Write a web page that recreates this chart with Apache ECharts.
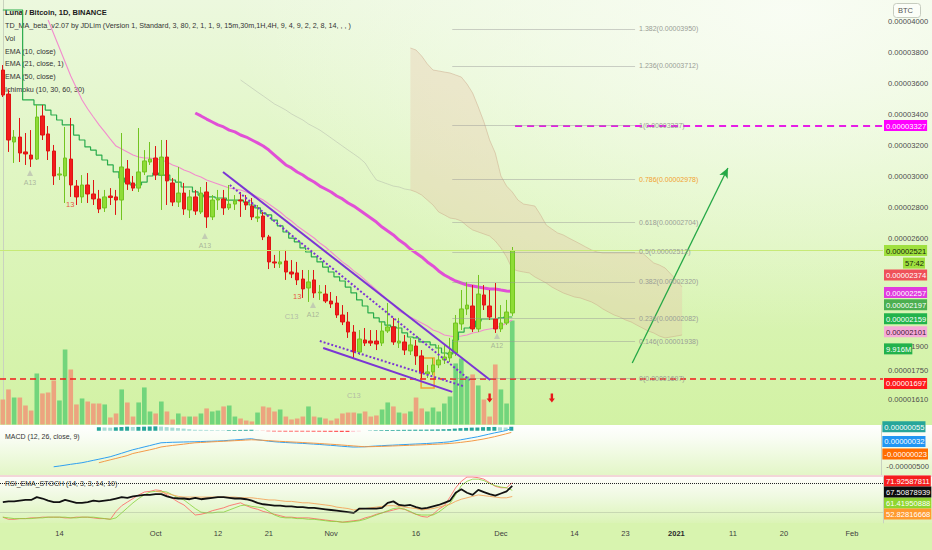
<!DOCTYPE html>
<html>
<head>
<meta charset="utf-8">
<title>Luna / Bitcoin, 1D, BINANCE</title>
<script src="https://cdn.jsdelivr.net/npm/echarts@6/dist/echarts.min.js"></script>
<style>
  html, body { margin:0; padding:0; width:932px; height:550px; overflow:hidden; background:#d9f4b2; }
  .bg { position:absolute; left:0; width:932px; }
  #bgMain { top:0; height:425px; background:
     radial-gradient(ellipse 560px 320px at 790px 10px, rgba(250,253,246,0.9) 0%, rgba(250,253,246,0) 100%),
     linear-gradient(to bottom, #ecf8de 0%, #e0f6c3 40%, #d2f2a4 100%); }
  #bgMacd { top:425px; height:50px; background: linear-gradient(to bottom, #ffffff 0%, #f9fdf4 25%, #e3f6c7 100%); }
  #bgSep { top:475px; height:2px; background:#f3d6d8; }
  #bgRsi { top:477px; height:46px; background: linear-gradient(to bottom, #fdfdf9 0%, #eef9df 45%, #dbf4b6 100%); }
  #bgX { top:523px; height:27px; background:#d8f4af; }
  #chart { position:absolute; left:0; top:0; width:932px; height:550px; }
</style>
</head>
<body>
<div class="bg" id="bgMain"></div>
<div class="bg" id="bgMacd"></div>
<div class="bg" id="bgSep"></div>
<div class="bg" id="bgRsi"></div>
<div class="bg" id="bgX"></div>
<div id="chart"></div>
<script>
// ---------- DATA (prices in satoshi = 1e-8 BTC) ----------
const startDate = '2020-09-04';
const dayCount = 156;
const tickDates  = ['2020-09-14','2020-10-01','2020-10-12','2020-10-21','2020-11-01','2020-11-16','2020-12-01','2020-12-14','2020-12-23','2021-01-01','2021-01-11','2021-01-20','2021-02-01'];
const tickLabels = ['14','Oct','12','21','Nov','16','Dec','14','23','2021','11','20','Feb'];
const priceAxisLabels = [4000,3800,3600,3400,3200,3000,2800,2600,1900,1750,1610];

const openP = [3685,3530,3221,3253,3157,3137,3111,3389,3273,3163,
  3008,3002,3111,2937,2867,2944,2886,2854,2796,2873,
  2867,2847,3047,2957,2924,3028,3092,3118,3008,3124,
  2957,2834,2892,2783,2867,2770,2899,2738,2847,2854,
  2796,2821,2847,2834,2808,2731,2744,2609,2448,2435,
  2454,2383,2377,2338,2280,2332,2248,2241,2196,2183,
  2106,2061,1996,1867,1945,1938,1938,1925,2003,2029,
  1925,1932,1874,1906,1842,1726,1739,1784,1816,1829,
  1861,2048,2145,2164,2016,2235,2164,2080,2016,2054,
  2119];
const closeP = [3524,3234,3253,3150,3144,3111,3382,3266,3163,3002,
  3015,3118,2944,2867,2944,2886,2854,2789,2867,2863,
  2847,3060,2950,2924,3028,3099,3111,3008,3124,2970,
  2834,2892,2789,2867,2776,2892,2738,2847,2854,2796,
  2821,2841,2841,2815,2738,2738,2609,2448,2441,2448,
  2383,2370,2332,2274,2319,2248,2254,2196,2177,2106,
  2061,1996,1867,1951,1925,1925,1919,2003,2029,1932,
  1938,1880,1913,1842,1732,1739,1784,1816,1835,1867,
  2054,2145,2170,2016,2241,2170,2093,2016,2054,2125,
  2521];
const lowP = [3511,3157,3086,3092,3073,3060,3105,3234,3105,2944,
  2976,2828,2867,2815,2828,2828,2815,2763,2770,2815,
  2751,2718,2912,2905,2899,3008,3073,2976,2783,2815,
  2808,2802,2751,2731,2751,2757,2667,2718,2783,2751,
  2783,2783,2738,2783,2718,2705,2589,2402,2409,2409,
  2332,2344,2299,2216,2190,2216,2203,2183,2151,2087,
  2041,1958,1829,1848,1906,1906,1880,1906,1990,1913,
  1893,1848,1848,1784,1697,1700,1719,1764,1790,1803,
  1842,2009,2106,1996,1996,2138,2074,1990,1996,2041,
  2100];
const highP = [3717,3560,3298,3376,3279,3298,3460,3460,3324,3202,
  3060,3318,3376,2976,3008,3021,2976,2912,2912,2924,
  2912,3279,3105,3002,3311,3169,3221,3195,3234,3234,
  2989,3060,2957,2912,2912,2931,2963,2879,2912,2912,
  2944,2879,2899,2879,2860,2815,2770,2622,2493,2525,
  2525,2460,2448,2396,2396,2396,2299,2299,2254,2228,
  2170,2125,2041,2009,2022,2009,2009,2061,2183,2087,
  2087,1977,1958,1945,1880,1784,1829,1913,1913,1958,
  2106,2267,2319,2299,2364,2299,2267,2312,2170,2203,
  2544];
// volume, millions
const volume = [2.38,3.34,2.57,2.57,1.81,1.33,4.86,2.96,3.05,4.19,
  2.29,7.15,5.24,1.91,2.48,2.19,2.0,2.0,1.91,0.67,
  1.05,3.34,2.10,0.76,2.10,3.53,1.24,1.05,2.19,1.24,
  0.48,1.05,0.76,0.76,0.76,1.05,1.53,1.24,1.33,1.72,
  1.81,0.76,0.57,0.38,0.29,1.14,1.72,1.62,1.24,1.43,
  0.76,0.48,0.57,0.76,1.72,0.76,0.67,0.57,0.38,0.57,
  1.05,1.14,1.14,1.05,1.24,0.76,0.86,1.43,2.10,1.72,
  1.14,1.05,1.24,2.57,1.53,1.24,1.62,1.24,2.0,2.67,
  5.82,6.29,4.58,4.77,3.72,2.38,0.76,5.72,3.34,2.0,9.916];
// Ichimoku conversion line (green, stepped)
const ichiConv = [4072,4072,4072,4072,3492,3492,3460,3460,3427,3395,
  3363,3331,3331,3266,3234,3189,3169,3137,3105,3073,
  3028,2989,2963,2944,2944,2963,3002,3021,3008,3008,
  2976,2963,2931,2931,2899,2879,2867,2867,2860,2860,
  2847,2847,2847,2834,2815,2796,2763,2751,2718,2680,
  2641,2602,2577,2538,2512,2480,2448,2415,2383,2351,
  2325,2286,2248,2203,2164,2119,2087,2061,2041,2029,
  2022,1990,1964,1958,1932,1932,1913,1893,1861,1855,
  1945,1996,2022,2029,2067,2080,2080,2080,2087,2093,2093];
// EMA 21 (thin pink), starts day 8
const ema21Start = 8;
const ema21 = [4007,3917,3827,3737,3647,3569,3492,3434,3382,3331,
  3286,3240,3195,3176,3157,3137,3124,3118,3118,3111,
  3105,3092,3073,3060,3041,3028,3008,2995,2976,2963,
  2950,2937,2924,2918,2912,2899,2886,2867,2847,2821,
  2796,2770,2738,2712,2680,2654,2628,2602,2570,2544,
  2512,2480,2448,2422,2390,2364,2332,2299,2267,2235,
  2203,2170,2132,2112,2093,2074,2054,2035,2009,1996,
  1977,1970,1964,1970,1977,1990,1996,2009,2016,2022,
  2035,2054,2074];
// EMA 50 (thick magenta), starts day 34
const ema50Start = 34;
const ema50 = [3408,3389,3369,3350,3331,3318,3298,3286,3266,3253,
  3234,3215,3195,3169,3137,3105,3073,3054,3028,3008,
  2983,2963,2937,2918,2899,2873,2854,2828,2808,2783,
  2757,2731,2705,2673,2647,2622,2589,2564,2531,2506,
  2480,2448,2422,2390,2364,2344,2325,2312,2299,2293,
  2286,2280,2274,2274,2267,2261,2257];
// Ichimoku cloud (days 72..120) and faint leading span (days 42..72)
const cloudStart = 72;
const cloudUpper = [3827,3814,3775,3724,3685,3679,3672,3666,3653,3640,
  3595,3537,3447,3350,3234,3150,3002,2937,2899,2847,
  2821,2815,2808,2751,2686,2660,2635,2622,2602,2583,
  2564,2544,2525,2512,2506,2506,2506,2506,2506,2506,
  2506,2506,2473,2441,2428,2409,2370,2332,2286];
const cloudLower = [2912,2899,2879,2847,2815,2770,2751,2731,2725,2712,
  2680,2654,2641,2628,2615,2583,2538,2480,2402,2390,
  2383,2377,2351,2332,2312,2286,2267,2248,2235,2222,
  2216,2203,2190,2170,2145,2125,2106,2093,2074,2061,
  2041,2022,2003,1990,1970,1958,1964,1970,1977];
const spanPreStart = 42;
const spanPre = [3621,3595,3569,3543,3518,3492,3466,3447,3427,3402,
  3382,3363,3337,3318,3298,3273,3247,3221,3195,3169,
  3144,3118,3086,3028,2976,2963,2950,2937,2931,2918,2912];
// MACD (satoshi)
const macdStart = 9;
const macdLine = [-500,-490,-478,-466,-455,-444,-428,-411,-395,-378,
  -361,-337,-313,-288,-264,-245,-225,-206,-186,-167,
  -163,-160,-158,-156,-154,-153,-150,-147,-145,-142,
  -139,-133,-128,-122,-116,-111,-124,-134,-144,-152,
  -158,-163,-167,-171,-175,-180,-185,-190,-196,-202,
  -208,-215,-221,-226,-225,-222,-217,-212,-208,-203,
  -200,-196,-192,-188,-184,-181,-177,-172,-167,-161,
  -154,-140,-126,-112,-98,-84,-66,-48,-30,-15,2,32];
const signalStart = 17;
const signalLine = [-444,-424,-404,-385,-365,-345,-316,-299,-282,-265,
  -247,-225,-214,-204,-195,-186,-176,-167,-163,-159,
  -154,-150,-146,-142,-138,-134,-129,-125,-128,-132,
  -137,-142,-147,-151,-155,-159,-163,-168,-172,-177,
  -182,-187,-192,-198,-204,-210,-216,-222,-221,-219,
  -217,-214,-211,-208,-205,-202,-199,-196,-193,-189,
  -186,-182,-177,-170,-162,-152,-142,-129,-116,-100,
  -83,-64,-44,-23];
const macdHist = [49,46,43,48,52,57,52,54,57,59,
  61,58,51,44,37,30,22,14,13,12,
  9,8,7,9,10,12,13,14,4,-2,
  -7,-10,-11,-12,-12,-12,-12,-12,-13,-13,
  -14,-15,-16,-17,-17,-16,-9,0,4,7,
  9,11,11,12,13,14,15,15,16,17,
  19,21,23,30,36,40,44,45,50,52,
  53,49,46,55];
// RSI_EMA_STOCH
const rsiLine = [45,46,46,47,48,48,52,50,47,45,
  45,48,46,44,44,45,47,46,47,48,
  50,52,51,53,54,55,55,56,56,53,
  51,50,50,49,51,49,50,51,52,52,
  51,50,50,49,47,44,42,41,40,40,
  39,39,38,38,37,37,36,35,34,33,
  32,31,30,36,36,36,36,37,44,46,
  41,40,41,38,36,37,39,41,44,47,
  58,63,58,55,62,59,56,54,57,60,67.51];
const stochK = [24,21,21,22,22,23,23,24,24,24,
  24,23,23,24,24,24,23,22,22,21,
  32,40,45,50,55,59,60,62,61,55,
  50,45,41,34,27,28,30,33,35,37,
  40,42,44,40,37,35,32,30,28,26,
  24,24,23,23,23,22,21,20,19,18,
  17,18,19,20,23,25,28,30,32,34,
  36,35,31,28,25,24,28,35,40,52,
  65,74,80,80,79,77,72,67,65,65,71.93];
const stochD = [24,23,22,22,22,22,23,23,24,24,
  24,24,23,23,24,24,24,23,22,21,
  23,30,37,44,50,55,59,60,60,59,
  55,51,48,42,36,31,30,30,31,31,
  34,37,40,41,39,38,37,32,27,24,
  23,23,22,22,21,21,20,19,18,18,
  17,17,18,19,21,24,27,30,33,36,
  37,35,32,28,27,27,27,31,37,43,
  55,68,74,77,77,75,71,68,66,65,61.42];
const rsiEmaStart = 27;
const rsiEma = [60,59,57,
  55,53,52,52,52,52,52,52,52,52,
  52,52,51,51,51,50,49,48,48,47,
  46,46,45,44,44,43,42,41,40,38,
  37,36,34,35,36,37,38,39,40,40,
  39,38,37,36,34,35,36,38,40,42,
  46,49,51,53,55,54,53,52,51,51,52.83];
// Fibonacci retracement
const fibRatios = ['0','0.146','0.236','0.382','0.5','0.618','0.786','1','1.236','1.382'];
const fibPrices = [1697,1938,2082,2320,2512,2704,2978,3327,3712,3950];
// Last-value tags
const mainTagValues = [2521,2374,2257,2197,2159,2101];
const lastVolume = 9.916;
const macdTagValues = [55,32,-23];
const rsiTagValues = [71.92587811,67.50878939,61.41950888,52.82816668];
const targetPrice = 3327;
const supportPrice = 1697;
// trend lines [day, price]
const wedgeUpper = [[38.9,3028],[86.1,1687]];
const wedgeUpperDot = [[40.1,2944],[82.5,1687]];
const wedgeLower = [[56.6,1893],[79.4,1610]];
const wedgeLowerDot = [[56.0,1938],[81.3,1648]];
const arrowLine = [[111.2,1796],[128.1,3053]];
const sellArrows = [[86,1571],[97,1571]];
const tdTriangles = [[4.8,3021,'A13'],[35.7,2615,'A13'],[54.8,2170,'A12'],[87.3,1970,'A12']];
const tdTexts = [[11.9,2820,'13','#e8261e'],[52,2222,'13','#e8261e'],[51,2094,'C13','#a9ada4'],[62,1590,'C13','#a9ada4']];

// ---------- BUILD ----------
const FONT = 'Liberation Sans, Arial, sans-serif';
const fmt = s => (s / 1e8).toFixed(8);
const cats = [];
const d0 = Date.parse(startDate + 'T00:00:00Z');
for (let i = 0; i < dayCount; i++) cats.push(new Date(d0 + i * 86400000).toISOString().slice(0, 10));
function pad(start, arr) { return new Array(start).fill(null).concat(arr); }

const candles = openP.map((o, i) => [o, closeP[i], lowP[i], highP[i]]);
const volData = volume.map((v, i) => ({ value: v, itemStyle: { color: closeP[i] >= openP[i] ? '#72d57c' : '#eca47f' } }));
const histData = macdHist.map((v, k) => {
  const prev = k > 0 ? macdHist[k - 1] : v;
  let c;
  if (v >= 0) c = v >= prev ? '#26a69a' : '#a8dcd6';
  else c = v <= prev ? '#ff5252' : '#ffc8cf';
  return { value: v, itemStyle: { color: c } };
});
const cloudDiff = cloudUpper.map((u, k) => u - cloudLower[k]);

function tagLabel(text, bg, fg, shift, dx) {
  const t = '{t|' + text + '}';
  let f = t;
  if (shift > 0) f = '{g| }\n' + t;
  if (shift < 0) f = t + '\n{g| }';
  const gh = Math.abs(shift) * 2;
  return {
    show: true, position: 'end', distance: dx || 1, formatter: f,
    rich: {
      t: { backgroundColor: bg, color: fg, fontSize: 7.6, fontFamily: FONT, padding: [2, 1, 1, 2], lineHeight: 10 },
      g: { fontSize: 1, height: gh, lineHeight: gh }
    }
  };
}
const hidden = { color: 'rgba(0,0,0,0)', width: 1, type: 'solid' };
const mainTagStyle = [
  ['#9fe03f', '#15240a', 0], ['#ef5159', '#ffffff', 1.5], ['#e03ade', '#ffffff', 1],
  ['#4caf50', '#ffffff', 4], ['#22b34b', '#ffffff', 12], ['#f6a9d8', '#3a1a33', 16]
];

const mainLines = [];
mainLines.push({ yAxis: mainTagValues[0], lineStyle: { color: '#c7e977', width: 1, type: 'solid' }, label: tagLabel(fmt(mainTagValues[0]), mainTagStyle[0][0], mainTagStyle[0][1], 0) });
mainLines.push({ yAxis: mainTagValues[0], lineStyle: hidden, label: tagLabel('57:42', '#9fe03f', '#15240a', 12.5, 20) });
for (let k = 1; k < mainTagValues.length; k++) {
  mainLines.push({ yAxis: mainTagValues[k], lineStyle: hidden, label: tagLabel(fmt(mainTagValues[k]), mainTagStyle[k][0], mainTagStyle[k][1], mainTagStyle[k][2]) });
}
mainLines.push({ yAxis: supportPrice, lineStyle: { color: '#f01d1d', width: 1.5, type: [6, 4] }, label: tagLabel(fmt(supportPrice), '#ff1b1b', '#ffffff', 5) });
mainLines.push([{ coord: [90.5, targetPrice], lineStyle: { color: '#e61ee6', width: 2, type: [7, 5] }, label: tagLabel(fmt(targetPrice), '#ff00ff', '#ffffff', 0) }, { coord: [155.5, targetPrice] }]);
fibPrices.forEach((p, k) => {
  mainLines.push([{ coord: [79.4, p], lineStyle: { color: 'rgba(150,150,150,0.45)', width: 1, type: 'solid' },
    label: { show: true, position: 'end', distance: 4, formatter: fibRatios[k] + '(' + fmt(p) + ')', color: fibRatios[k] === '0.786' ? '#f2a130' : '#9a9d96', fontSize: 7, fontFamily: FONT, padding: [0, 0, 9, 0] } },
    { coord: [111.7, p] }]);
});
const purple = '#7b36d4';
[[wedgeUpper, 'solid'], [wedgeUpperDot, 'dotted'], [wedgeLower, 'solid'], [wedgeLowerDot, 'dotted']].forEach(([seg, tp]) => {
  mainLines.push([{ coord: seg[0], lineStyle: { color: purple, width: 2, type: tp }, label: { show: false } }, { coord: seg[1] }]);
});
mainLines.push([{ coord: arrowLine[0], symbol: 'none', lineStyle: { color: '#25a846', width: 1.3, type: 'solid' }, label: { show: false } }, { coord: arrowLine[1], symbol: 'arrow', symbolSize: [7, 10] }]);

const axisLabelStyle = { color: '#4d4d4d', fontSize: 7.6, fontFamily: FONT };
const option = {
  animation: false,
  backgroundColor: 'transparent',
  textStyle: { fontFamily: FONT },
  grid: [
    { left: 0, right: 49, top: 0, height: 424.5 },
    { left: 0, right: 49, top: 425, height: 49.7 },
    { left: 0, right: 49, top: 477, height: 45.9 }
  ],
  xAxis: [
    { type: 'category', gridIndex: 0, data: cats, boundaryGap: true, show: false },
    { type: 'value', gridIndex: 0, min: -0.5, max: dayCount - 0.5, show: false },
    { type: 'category', gridIndex: 1, data: cats, boundaryGap: true, show: false },
    { type: 'category', gridIndex: 2, data: cats, boundaryGap: true,
      axisLine: { show: false }, axisTick: { show: false }, splitLine: { show: false },
      axisLabel: { interval: (idx, val) => tickDates.indexOf(val) >= 0, margin: 7, color: '#3d3d3d', fontSize: 7.5, fontFamily: FONT,
        formatter: (val) => { const k = tickDates.indexOf(val); if (k < 0) return ''; return tickLabels[k] === '2021' ? '{b|2021}' : tickLabels[k]; },
        rich: { b: { fontWeight: 'bold', fontSize: 7.5, color: '#2a2a2a', fontFamily: FONT } } } }
  ],
  yAxis: [
    { type: 'value', gridIndex: 0, position: 'right', min: 1400, max: 4136.4, interval: 10, scale: false,
      axisLine: { show: true, lineStyle: { color: '#c9d2bf' } }, axisTick: { show: false }, splitLine: { show: false },
      axisLabel: Object.assign({ margin: 5,
        formatter: v => {
          const r = Math.round(v);
          if (priceAxisLabels.indexOf(r) < 0) return '';
          return r === 1610 ? '{lo|' + fmt(r) + '}' : fmt(r);
        },
        rich: { lo: Object.assign({ padding: [15, 0, 0, 0] }, axisLabelStyle) } }, axisLabelStyle) },
    { type: 'value', gridIndex: 0, min: 0, max: 40.44, show: false },
    { type: 'value', gridIndex: 1, position: 'right', min: -610, max: 80, interval: 10,
      axisLine: { show: true, lineStyle: { color: '#c9d2bf' } }, axisTick: { show: false }, splitLine: { show: false },
      axisLabel: Object.assign({ margin: 5, formatter: v => Math.round(v) === -500 ? fmt(-500) : '' }, axisLabelStyle) },
    { type: 'value', gridIndex: 2, position: 'right', min: 16, max: 80,
      axisLine: { show: true, lineStyle: { color: '#c9d2bf' } }, axisTick: { show: false }, splitLine: { show: false }, axisLabel: { show: false } }
  ],
  series: [
    // Ichimoku cloud
    { name: 'spanLow', type: 'line', xAxisIndex: 0, yAxisIndex: 0, data: pad(cloudStart, cloudLower), stack: 'cloud', symbol: 'none', z: 1,
      lineStyle: { color: 'rgba(200,160,130,0.55)', width: 0.8 } },
    { name: 'spanBand', type: 'line', xAxisIndex: 0, yAxisIndex: 0, data: pad(cloudStart, cloudDiff), stack: 'cloud', symbol: 'none', z: 1,
      lineStyle: { color: 'rgba(200,160,130,0.55)', width: 0.8 }, areaStyle: { color: 'rgba(232,190,165,0.45)' } },
    { name: 'spanPre', type: 'line', xAxisIndex: 0, yAxisIndex: 0, data: pad(spanPreStart, spanPre), symbol: 'none', z: 1,
      lineStyle: { color: 'rgba(160,160,160,0.45)', width: 0.8 } },
    // volume
    { name: 'Vol', type: 'bar', xAxisIndex: 0, yAxisIndex: 1, data: volData, barWidth: '82%', z: 2,
      markLine: { symbol: ['none', 'none'], silent: true, animation: false,
        data: [{ yAxis: lastVolume, lineStyle: hidden, label: tagLabel('9.916M', '#22b24c', '#ffffff', 28.5) }] } },
    // EMA / Ichimoku lines
    { name: 'EMA21', type: 'line', xAxisIndex: 0, yAxisIndex: 0, data: pad(ema21Start, ema21), symbol: 'none', z: 3,
      lineStyle: { color: '#f28ccd', width: 1.1 } },
    { name: 'Conversion', type: 'line', xAxisIndex: 0, yAxisIndex: 0, data: ichiConv, symbol: 'none', step: 'middle', z: 3,
      lineStyle: { color: '#2aab4c', width: 1.2 } },
    { name: 'EMA50', type: 'line', xAxisIndex: 0, yAxisIndex: 0, data: pad(ema50Start, ema50), symbol: 'none', z: 3,
      lineStyle: { color: '#e14fd6', width: 3 } },
    // candles
    { name: 'LUNABTC', type: 'candlestick', xAxisIndex: 0, yAxisIndex: 0, data: candles, barWidth: 4, z: 4,
      itemStyle: { color: '#8edc36', color0: '#f21c1c', borderColor: '#72c420', borderColor0: '#de1414', borderWidth: 1 } },
    // annotations
    { name: 'annot', type: 'line', xAxisIndex: 1, yAxisIndex: 0, data: [], z: 5, silent: true,
      markLine: { symbol: ['none', 'none'], silent: true, animation: false, data: mainLines },
      markArea: { silent: true, data: [[{ coord: [73.9, 1829], itemStyle: { color: 'rgba(0,0,0,0)', borderColor: '#f3a234', borderWidth: 1.5 } }, { coord: [76.2, 1635] }]] },
      markPoint: { silent: true, animation: false, symbol: 'path://M3,0 L7,0 L7,8 L10,8 L5,14 L0,8 L3,8 Z', symbolSize: [6, 9],
        itemStyle: { color: '#e8171b' }, label: { show: false },
        data: sellArrows.map(p => ({ coord: p })) } },
    { name: 'tdTri', type: 'scatter', xAxisIndex: 1, yAxisIndex: 0, z: 5, silent: true, symbol: 'triangle', symbolSize: 6,
      itemStyle: { color: '#bcc2b2' }, data: tdTriangles.map(t => ({ value: [t[0], t[1]], name: t[2] })),
      label: { show: true, position: 'bottom', distance: 3, formatter: p => p.name, color: 'rgba(140,145,135,0.8)', fontSize: 7, fontFamily: FONT } },
    { name: 'tdTxt', type: 'scatter', xAxisIndex: 1, yAxisIndex: 0, z: 5, silent: true, symbolSize: 0,
      data: tdTexts.map(t => ({ value: [t[0], t[1]], name: t[2], label: { color: t[3] } })),
      label: { show: true, position: 'inside', formatter: p => p.name, fontSize: 7.5, fontFamily: FONT } },
    // MACD
    { name: 'Hist', type: 'bar', xAxisIndex: 2, yAxisIndex: 2, data: pad(signalStart, histData), barWidth: 4, z: 2,
      markLine: { symbol: ['none', 'none'], silent: true, animation: false,
        data: [{ yAxis: macdTagValues[0], lineStyle: hidden, label: tagLabel(fmt(macdTagValues[0]), '#26a69a', '#ffffff', 0) }] } },
    { name: 'MACD', type: 'line', xAxisIndex: 2, yAxisIndex: 2, data: pad(macdStart, macdLine), symbol: 'none', z: 3,
      lineStyle: { color: '#2f9ff0', width: 1 },
      markLine: { symbol: ['none', 'none'], silent: true, animation: false,
        data: [{ yAxis: macdTagValues[1], lineStyle: hidden, label: tagLabel(fmt(macdTagValues[1]), '#2196f3', '#ffffff', 13) }] } },
    { name: 'Signal', type: 'line', xAxisIndex: 2, yAxisIndex: 2, data: pad(signalStart, signalLine), symbol: 'none', z: 3,
      lineStyle: { color: '#f39a48', width: 1 },
      markLine: { symbol: ['none', 'none'], silent: true, animation: false,
        data: [{ yAxis: macdTagValues[2], lineStyle: hidden, label: tagLabel(fmt(macdTagValues[2]), '#ff6d00', '#ffffff', 21.5) }] } },
    // RSI / Stoch
    { name: 'StochK', type: 'line', xAxisIndex: 3, yAxisIndex: 3, data: stochK, symbol: 'none', z: 3,
      lineStyle: { color: '#ff6060', width: 0.8 },
      markLine: { symbol: ['none', 'none'], silent: true, animation: false,
        data: [{ yAxis: rsiTagValues[0], lineStyle: { color: '#222', width: 1, type: 'dotted' }, label: tagLabel(rsiTagValues[0].toFixed(8), '#f51d1d', '#ffffff', -1.8) }] } },
    { name: 'StochD', type: 'line', xAxisIndex: 3, yAxisIndex: 3, data: stochD, symbol: 'none', z: 3,
      lineStyle: { color: '#86d33a', width: 0.8 },
      markLine: { symbol: ['none', 'none'], silent: true, animation: false,
        data: [{ yAxis: 31, lineStyle: { color: 'rgba(150,160,140,0.35)', width: 1, type: 'solid' }, label: { show: false } },
               { yAxis: rsiTagValues[2], lineStyle: hidden, label: tagLabel(rsiTagValues[2].toFixed(8), '#8fd630', '#ffffff', 12.7) }] } },
    { name: 'RsiEma', type: 'line', xAxisIndex: 3, yAxisIndex: 3, data: pad(rsiEmaStart, rsiEma), symbol: 'none', z: 3,
      lineStyle: { color: '#f4a55e', width: 0.9 },
      markLine: { symbol: ['none', 'none'], silent: true, animation: false,
        data: [{ yAxis: rsiTagValues[3], lineStyle: hidden, label: tagLabel(rsiTagValues[3].toFixed(8), '#ff9a2e', '#ffffff', 17.5) }] } },
    { name: 'RSI', type: 'line', xAxisIndex: 3, yAxisIndex: 3, data: rsiLine, symbol: 'none', z: 4,
      lineStyle: { color: '#111111', width: 1.8 },
      markLine: { symbol: ['none', 'none'], silent: true, animation: false,
        data: [{ yAxis: rsiTagValues[1], lineStyle: hidden, label: tagLabel(rsiTagValues[1].toFixed(8), '#0c0c0c', '#ffffff', 6) }] } }
  ],
  graphic: [
    { type: 'text', left: 5, top: 8.5, silent: true, style: { text: 'Luna / Bitcoin, 1D, BINANCE', fill: '#1b1b1b', fontSize: 7.5, fontWeight: 'bold', fontFamily: FONT } },
    { type: 'text', left: 5, top: 21.5, silent: true, style: { text: 'TD_MA_beta_v2.07 by JDLim (Version 1, Standard, 3, 80, 2, 1, 1, 9, 15m,30m,1H,4H, 9, 4, 9, 2, 2, 8, 14, , , )', fill: '#333', fontSize: 7.2, fontFamily: FONT } },
    { type: 'text', left: 5, top: 34.5, silent: true, style: { text: 'Vol', fill: '#333', fontSize: 7.2, fontFamily: FONT } },
    { type: 'text', left: 5, top: 47.5, silent: true, style: { text: 'EMA (10, close)', fill: '#333', fontSize: 7.2, fontFamily: FONT } },
    { type: 'text', left: 5, top: 59.5, silent: true, style: { text: 'EMA (21, close, 1)', fill: '#333', fontSize: 7.2, fontFamily: FONT } },
    { type: 'text', left: 5, top: 72.5, silent: true, style: { text: 'EMA (50, close)', fill: '#333', fontSize: 7.2, fontFamily: FONT } },
    { type: 'text', left: 5, top: 85.5, silent: true, style: { text: 'Ichimoku (10, 30, 60, 30)', fill: '#333', fontSize: 7.2, fontFamily: FONT } },
    { type: 'text', left: 5, top: 433, silent: true, style: { text: 'MACD (12, 26, close, 9)', fill: '#333', fontSize: 7, fontFamily: FONT } },
    { type: 'text', left: 5, top: 480, silent: true, style: { text: 'RSI_EMA_STOCH (14, 3, 3, 14, 10)', fill: '#333', fontSize: 7, fontFamily: FONT } },
    { type: 'rect', left: 893, top: 3, silent: true, shape: { width: 27, height: 14, r: 3 }, style: { fill: 'rgba(255,255,255,0.55)', stroke: '#c6ccbf', lineWidth: 1 } },
    { type: 'text', left: 898, top: 6.5, silent: true, style: { text: 'BTC', fill: '#555', fontSize: 7.5, fontFamily: FONT } }
  ]
};

const chart = echarts.init(document.getElementById('chart'), null, { renderer: 'svg', width: 932, height: 550 });
chart.setOption(option);
</script>
</body>
</html>
